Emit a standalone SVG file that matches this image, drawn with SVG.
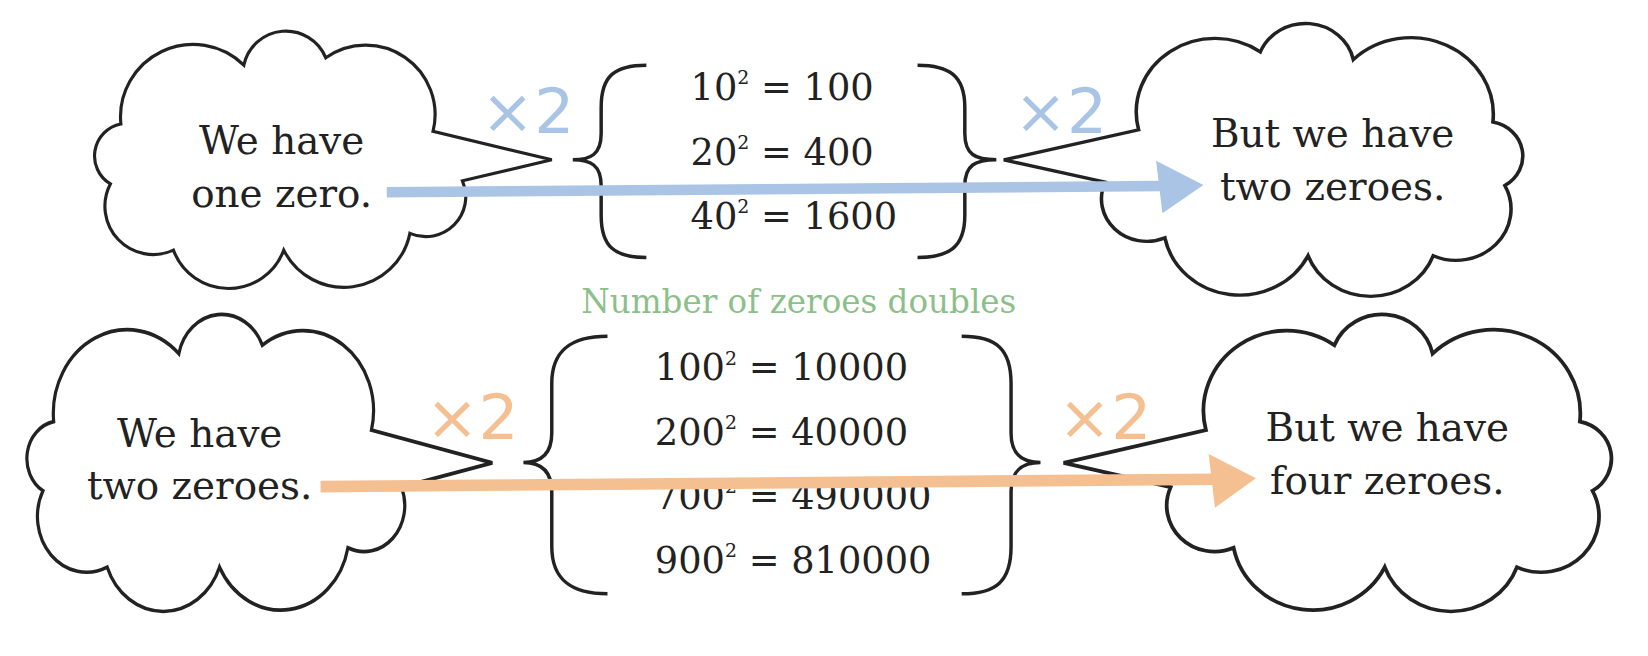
<svg xmlns="http://www.w3.org/2000/svg" width="1648" height="656" viewBox="0 0 1648 656">
<style>
.cl{fill:#fff;stroke:#222;stroke-width:3;vector-effect:non-scaling-stroke;stroke-linejoin:miter}
.br{fill:none;stroke:#222;stroke-width:3.3}
.t{font-family:"DejaVu Serif","Liberation Serif",serif;fill:#222}
.ct{font-size:37px;text-anchor:middle}
.eq{font-size:35px}
.sup{font-size:18px}
.x2b{font-family:"DejaVu Sans","Liberation Sans",sans-serif;font-size:60px;fill:#a9c4e4}
.x2o{font-family:"DejaVu Sans","Liberation Sans",sans-serif;font-size:60px;fill:#f4c092}
</style>
<defs>
<path id="cloud" d="M115,118 A69,69 0 0 1 232,62 A41,41 0 0 1 310,55 A66,66 0 0 1 412,125 L525,152 L440,172 A38,38 0 0 1 390,222 A64,64 0 0 1 270,238 A56,56 0 0 1 165,238 A46,46 0 0 1 105,175 A31,31 0 0 1 115,118 Z"/>
</defs>
<g transform="scale(1.051)">
<g id="cloud-tl"><use href="#cloud" class="cl"/>
<text class="t ct" x="268" y="147">We have</text><text class="t ct" x="268" y="197">one zero.</text></g>
<g id="cloud-tr"><use href="#cloud" class="cl" transform="translate(1551,-9) scale(-1.135,1.06)"/>
<text class="t ct" x="1268" y="140">But we have</text><text class="t ct" x="1268" y="190">two zeroes.</text></g>
<g id="cloud-bl"><use href="#cloud" class="cl" transform="translate(-66,265) scale(1.018,1.154)"/>
<text class="t ct" x="190" y="425">We have</text><text class="t ct" x="190" y="475">two zeroes.</text></g>
<g id="cloud-br"><use href="#cloud" class="cl" transform="translate(1641,265) scale(-1.198,1.154)"/>
<text class="t ct" x="1320" y="420">But we have</text><text class="t ct" x="1320" y="470">four zeroes.</text></g>
<g id="brace-top">
<path class="br" d="M615,62 C585,62 572,72 572,102 L572,127 C572,147 562,152 545,152 C562,152 572,157 572,177 L572,205 C572,235 585,245 615,245"/>
<path class="br" d="M873,62 C903,62 918,72 918,102 L918,127 C918,147 928,152 948,152 C928,152 918,157 918,177 L918,205 C918,235 903,245 873,245"/>
<text class="t eq" x="657" y="95">10<tspan class="sup" dy="-15">2</tspan><tspan dy="15"> = 100</tspan></text>
<text class="t eq" x="657" y="157">20<tspan class="sup" dy="-15">2</tspan><tspan dy="15"> = 400</tspan></text>
<text class="t eq" x="657" y="218">40<tspan class="sup" dy="-15">2</tspan><tspan dy="15"> = 1600</tspan></text>
</g>
<g id="brace-bottom">
<path class="br" d="M578,320 C545,320 525,332 525,365 L525,412 C525,432 515,440 498,440 C515,440 525,448 525,468 L525,520 C525,553 545,565 578,565"/>
<path class="br" d="M915,320 C948,320 962,332 962,365 L962,412 C962,432 972,440 990,440 C972,440 962,448 962,468 L962,520 C962,553 948,565 915,565"/>
<text class="t eq" x="623" y="362">100<tspan class="sup" dy="-15">2</tspan><tspan dy="15"> = 10000</tspan></text>
<text class="t eq" x="623" y="423">200<tspan class="sup" dy="-15">2</tspan><tspan dy="15"> = 40000</tspan></text>
<text class="t eq" x="623" y="484">700<tspan class="sup" dy="-15">2</tspan><tspan dy="15"> = 490000</tspan></text>
<text class="t eq" x="623" y="545">900<tspan class="sup" dy="-15">2</tspan><tspan dy="15"> = 810000</tspan></text>
</g>
<text class="t" x="760" y="298" text-anchor="middle" style="font-size:31px;fill:#8dbf8b">Number of zeroes doubles</text>
<text class="x2b" x="458" y="127">×2</text>
<text class="x2b" x="965" y="127">×2</text>
<text class="x2o" x="405" y="418">×2</text>
<text class="x2o" x="1007" y="418">×2</text>
<g id="connectors">
<line x1="368" y1="183" x2="1105" y2="177" stroke="#a9c4e4" stroke-width="10"/>
<polygon points="1145,176 1100,153 1106,203" fill="#a9c4e4"/>
<line x1="305" y1="463" x2="1155" y2="456" stroke="#f4c092" stroke-width="11"/>
<polygon points="1195,455 1150,432 1156,483" fill="#f4c092"/>
</g>
</g>
</svg>
